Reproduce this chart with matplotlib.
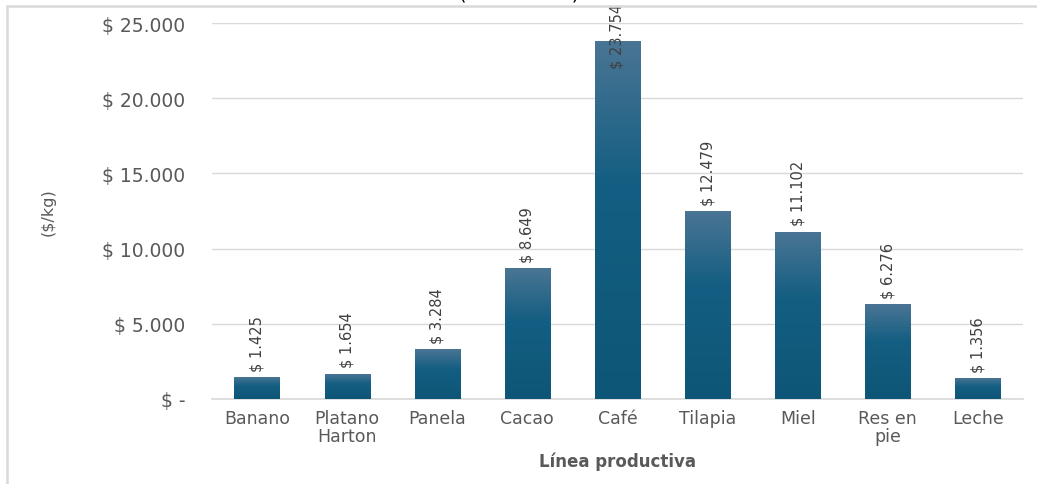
import matplotlib.pyplot as plt
import numpy as np
from matplotlib.colors import LinearSegmentedColormap
from matplotlib.patches import Rectangle

categorias = ["Banano", "Platano\nHarton", "Panela", "Cacao", "Café",
              "Tilapia", "Miel", "Res en\npie", "Leche"]
precios = [1425, 1654, 3284, 8649, 23754, 12479, 11102, 6276, 1356]
etiquetas = ["$ 1.425", "$ 1.654", "$ 3.284", "$ 8.649", "$ 23.754",
             "$ 12.479", "$ 11.102", "$ 6.276", "$ 1.356"]
yticks = [0, 5000, 10000, 15000, 20000, 25000]
ytick_labels = ["$ -", "$ 5.000", "$ 10.000", "$ 15.000", "$ 20.000", "$ 25.000"]

gris = "#595959"
plt.rcParams['font.family'] = ['DejaVu Sans']

fig = plt.figure(figsize=(10.37, 4.85), dpi=100)
ax = fig.add_axes([0.2044, 0.1753, 0.7821, 0.7752])

# degradado vertical de cada barra (claro arriba, oscuro abajo)
cmap = LinearSegmentedColormap.from_list(
    "barra", [(0.0, "#0e5677"), (0.6, "#135e82"), (1.0, "#4a7594")])
grad = np.linspace(0, 1, 256).reshape(-1, 1)

x = np.arange(len(categorias))
ancho = 0.5
for xi, v in zip(x, precios):
    ax.imshow(grad, cmap=cmap, aspect="auto", origin="lower",
              extent=[xi - ancho / 2, xi + ancho / 2, 0, v], zorder=3)

for xi, v, t in zip(x, precios, etiquetas):
    ax.text(xi, min(v + 450, 22000), t, rotation=90, ha="center", va="bottom",
            fontsize=10.5, color="#404040", zorder=4, clip_on=False)

ax.set_xlim(-0.5, len(categorias) - 0.5)
ax.set_ylim(0, 25000)
ax.set_xticks(x)
ax.set_xticklabels(categorias, fontsize=12.5, color=gris, linespacing=1.0)
ax.set_yticks(yticks)
ax.set_yticklabels(ytick_labels, fontsize=13.5, color=gris)
ax.tick_params(axis="both", length=0)
ax.tick_params(axis="y", pad=19)
ax.tick_params(axis="x", pad=7)

ax.grid(axis="y", color="#d9d9d9", linewidth=1, zorder=0)
ax.set_axisbelow(True)
for s in ["top", "right", "left"]:
    ax.spines[s].set_visible(False)
ax.spines["bottom"].set_color("#d9d9d9")
ax.spines["bottom"].set_linewidth(1.2)

ax.set_xlabel("Línea productiva", fontsize=12, fontweight="bold", color=gris, labelpad=5)
fig.text(48 / 1037, 1 - 212 / 485, "($/kg)", rotation=90, ha="center", va="center",
         fontsize=11.5, color=gris)

# título cortado en el borde superior
fig.text(522 / 1037, 1 + 0.5 / 485, "(2015-2025).", ha="center", va="baseline",
         fontsize=14, color="black")

# marco del área del gráfico
fig.patches.append(Rectangle((7 / 1037, -0.1), 1.1, 1 - 7 / 485 + 0.1,
                             transform=fig.transFigure, fill=False,
                             edgecolor="#d9d9d9", linewidth=1.8))

fig.savefig("out.png", dpi=100)
